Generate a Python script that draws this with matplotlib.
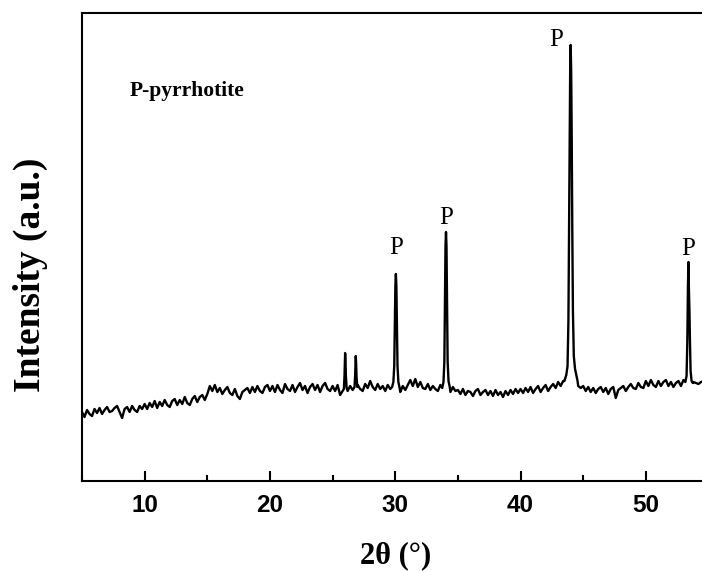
import numpy as np
import matplotlib
matplotlib.use("Agg")
import matplotlib.pyplot as plt
from matplotlib.ticker import MultipleLocator

# ==========================
# DATA
# ==========================

# baseline scan, 2theta 5.0 .. 55.0, step 0.2
two_theta_step = 0.2

base_05 = [690, 640, 710, 670, 650, 720, 680, 730, 670, 710, 740, 690, 700,
           730, 750, 690, 630, 720, 740, 690, 750, 710, 690, 750, 720]
base_10 = [770, 720, 780, 740, 800, 730, 790, 750, 810, 760, 740, 800, 820,
           760, 810, 770, 840, 780, 760, 820, 850, 790, 840, 860, 810]
base_15 = [870, 950, 900, 960, 890, 930, 870, 910, 940, 880, 860, 920, 850,
           820, 890, 910, 930, 880, 940, 890, 950, 900, 880, 940, 960]
base_20 = [900, 950, 890, 960, 910, 880, 970, 920, 900, 960, 890, 940, 980,
           910, 950, 880, 940, 970, 910, 960, 890, 950, 980, 920, 900]
base_25 = [950, 900, 960, 860, 900, 930, 900, 950, 910, 900, 960, 920, 900,
           970, 930, 1000, 940, 910, 970, 920, 950, 900, 960, 920, 920]
base_30 = [930, 920, 890, 950, 910, 960, 1010, 950, 1020, 940, 990, 930, 920,
           970, 910, 950, 920, 900, 960, 920, 950, 910, 890, 940, 900]
base_35 = [910, 870, 920, 860, 900, 890, 850, 900, 920, 860, 890, 910, 860,
           900, 850, 910, 860, 890, 840, 900, 860, 910, 870, 920, 880]
base_40 = [920, 880, 930, 890, 940, 880, 920, 950, 890, 930, 960, 900, 940,
           970, 930, 990, 950, 1000, 1010, 970, 960, 1040, 1000, 950, 930]
base_45 = [950, 900, 940, 890, 930, 880, 920, 940, 890, 930, 870, 920, 940,
           830, 910, 930, 950, 900, 940, 970, 930, 920, 980, 940, 930]
base_50 = [1000, 950, 1010, 960, 940, 1000, 950, 990, 1010, 950, 990, 940, 980,
           1000, 950, 1010, 970, 1030, 990, 990, 980, 970, 990, 1000, 980, 990]

# reflections (2theta, intensity)
peak_26_0 = [(25.90, 920), (25.95, 1050), (25.98, 1200), (26.00, 1280),
             (26.03, 1200), (26.06, 1050), (26.12, 930)]
peak_26_85 = [(26.75, 940), (26.80, 1060), (26.83, 1180), (26.85, 1250),
              (26.88, 1170), (26.91, 1040), (26.97, 940)]
peak_30 = [(29.75, 940), (29.85, 990), (29.92, 1150), (29.97, 1600),
           (30.01, 1950), (30.05, 2070), (30.09, 1950), (30.13, 1600),
           (30.18, 1150), (30.25, 990), (30.35, 930)]
peak_34 = [(33.75, 930), (33.85, 990), (33.92, 1200), (33.97, 1800),
           (34.01, 2350), (34.05, 2490), (34.09, 2350), (34.13, 1800),
           (34.18, 1200), (34.25, 1000), (34.35, 940)]
peak_44 = [(43.50, 1000), (43.65, 1060), (43.75, 1150), (43.82, 1600),
           (43.87, 2500), (43.92, 3500), (43.96, 4100), (44.00, 4360),
           (44.04, 4100), (44.08, 3500), (44.13, 2500), (44.18, 1700),
           (44.25, 1250), (44.35, 1120), (44.45, 1060), (44.55, 1000)]
peak_53 = [(53.15, 990), (53.25, 1050), (53.31, 1400), (53.36, 1950),
           (53.40, 2190), (53.44, 1900), (53.48, 1700), (53.52, 1400),
           (53.57, 1100), (53.65, 1000), (53.75, 980)]

# "P" markers: (2theta, y of text baseline)
p_labels = [(30.05, 2270), (34.05, 2570), (42.83, 4350), (53.37, 2260)]

# ==========================
# BUILD SCAN
# ==========================

y_base = np.array(base_05 + base_10 + base_15 + base_20 + base_25 +
                  base_30 + base_35 + base_40 + base_45 + base_50, dtype=float)
x_base = 5.0 + two_theta_step * np.arange(len(y_base))

x_all = list(x_base)
y_all = list(y_base)
for pk in [peak_26_0, peak_26_85, peak_30, peak_34, peak_44, peak_53]:
    lo, hi = pk[0][0], pk[-1][0]
    keep = [(a, b) for a, b in zip(x_all, y_all) if not (lo <= a <= hi)]
    keep += pk
    keep.sort()
    x_all = [k[0] for k in keep]
    y_all = [k[1] for k in keep]

# ==========================
# FIGURE
# ==========================

W, H = 702, 571
fig = plt.figure(figsize=(W / 100, H / 100), dpi=100)
ax = fig.add_axes([82 / W, (H - 481) / H, (708.5 - 82) / W, (481 - 13) / H])

ax.plot(x_all, y_all, color="black", linewidth=1.7)

ax.set_xlim(5, 55)
ax.set_ylim(0, 4680)

for s in ax.spines.values():
    s.set_linewidth(1.5)

ax.xaxis.set_major_locator(MultipleLocator(10))
ax.xaxis.set_minor_locator(MultipleLocator(5))
ax.tick_params(axis="x", which="major", direction="in", length=7,
               width=1.5, pad=9)
ax.tick_params(axis="x", which="minor", direction="in", length=4, width=1.5)
ax.tick_params(axis="y", left=False, labelleft=False)
for lb in ax.get_xticklabels():
    lb.set_fontfamily("Liberation Sans")
    lb.set_fontweight("bold")
    lb.set_fontsize(17.5)

serif = "Liberation Serif"

ax.text(8.83, 3850, "P-pyrrhotite", family=serif, fontweight="bold",
        fontsize=15.5, va="baseline", ha="left")

for px, py in p_labels:
    ax.text(px, py, "P", family=serif, fontsize=18, ha="center",
            va="baseline")

fig.text(396 / W, (H - 563) / H, "2θ (°)", family=serif, fontweight="bold",
         fontsize=22, ha="center", va="baseline")
fig.text(30 / W, (H - 274.5) / H, "Intensity (a.u.)", family=serif,
         fontweight="bold", fontsize=27, rotation=90, ha="center",
         va="center")

fig.savefig("out.png", dpi=100)
